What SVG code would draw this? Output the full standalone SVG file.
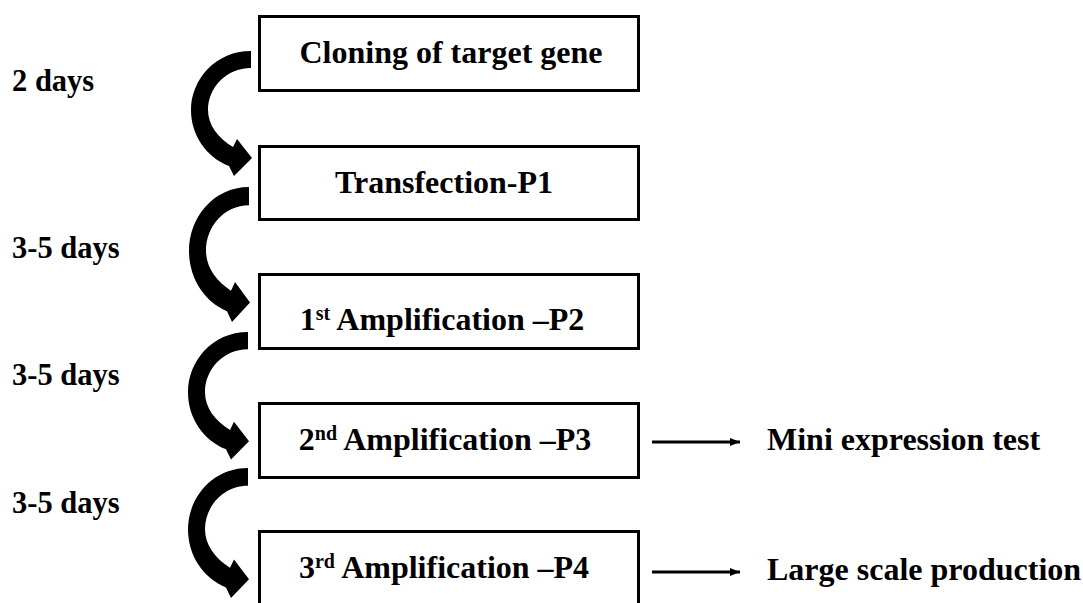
<svg xmlns="http://www.w3.org/2000/svg" xmlns:xlink="http://www.w3.org/1999/xlink" width="1083" height="603" viewBox="0 0 1083 603">
  <style>
    .box { fill: #ffffff; stroke: #000000; stroke-width: 3; }
    .label { font-weight: bold; font-size: 32px; fill: #000000; }
    .days { font-size: 30.5px; }
    .mid { text-anchor: middle; }
    .sup { font-size: 20px; }
    .link { stroke: #000000; stroke-width: 3; fill: none; }
  </style>
  <defs>
    <!-- curved block arrow, tail top-right corner at origin -->
    <path id="curl" d="M0,0 C-36,0 -60,29 -60,59 C-60,84 -45,106 -22,115 L-17,125 L1,107 L-14,88 L-18,96 C-33,87 -43,74 -43,59 C-43,37 -25,17 0,17 Z" fill="#000000"/>
    <marker id="head" markerWidth="10" markerHeight="8" refX="10" refY="4" orient="auto" markerUnits="userSpaceOnUse">
      <path d="M0,0 L10,4 L0,8 Z" fill="#000000"/>
    </marker>
  </defs>

  <g font-family="'Liberation Serif', 'DejaVu Serif', serif">
    <!-- duration labels -->
    <g id="durations">
      <text class="label days" x="12" y="91">2 days</text>
      <text class="label days" x="12" y="258">3-5 days</text>
      <text class="label days" x="12" y="385">3-5 days</text>
      <text class="label days" x="12" y="513">3-5 days</text>
    </g>

    <!-- process steps -->
    <g id="step-cloning">
      <rect class="box" x="259.5" y="16.5" width="379" height="74"/>
      <text class="label mid" x="451" y="63">Cloning of target gene</text>
    </g>
    <g id="step-transfection">
      <rect class="box" x="259.5" y="146.5" width="379" height="73"/>
      <text class="label mid" x="444" y="193">Transfection-P1</text>
    </g>
    <g id="step-amp1">
      <rect class="box" x="259.5" y="274.5" width="379" height="74"/>
      <text class="label mid" x="442" y="330">1<tspan class="sup" dy="-10">st</tspan><tspan dy="10"> Amplification –P2</tspan></text>
    </g>
    <g id="step-amp2">
      <rect class="box" x="259.5" y="403.5" width="379" height="74"/>
      <text class="label mid" x="445" y="450">2<tspan class="sup" dy="-10">nd</tspan><tspan dy="10"> Amplification –P3</tspan></text>
    </g>
    <g id="step-amp3">
      <rect class="box" x="259.5" y="531.5" width="379" height="80"/>
      <text class="label mid" x="444" y="578">3<tspan class="sup" dy="-10">rd</tspan><tspan dy="10"> Amplification –P4</tspan></text>
    </g>

    <!-- outputs -->
    <g id="out-mini">
      <text class="label" x="767" y="450">Mini expression test</text>
    </g>
    <g id="out-large">
      <text class="label" x="767" y="580">Large scale production</text>
    </g>
  </g>

  <!-- connectors -->
  <g id="connectors">
    <use xlink:href="#curl" transform="translate(251,51)"/>
    <use xlink:href="#curl" transform="translate(249,187) scale(1,1.08)"/>
    <use xlink:href="#curl" transform="translate(248,332) scale(1,1.02)"/>
    <use xlink:href="#curl" transform="translate(248,468) scale(1,1.04)"/>
    <line class="link" x1="652" y1="442" x2="740" y2="442" marker-end="url(#head)"/>
    <line class="link" x1="652" y1="572" x2="740" y2="572" marker-end="url(#head)"/>
  </g>
</svg>
